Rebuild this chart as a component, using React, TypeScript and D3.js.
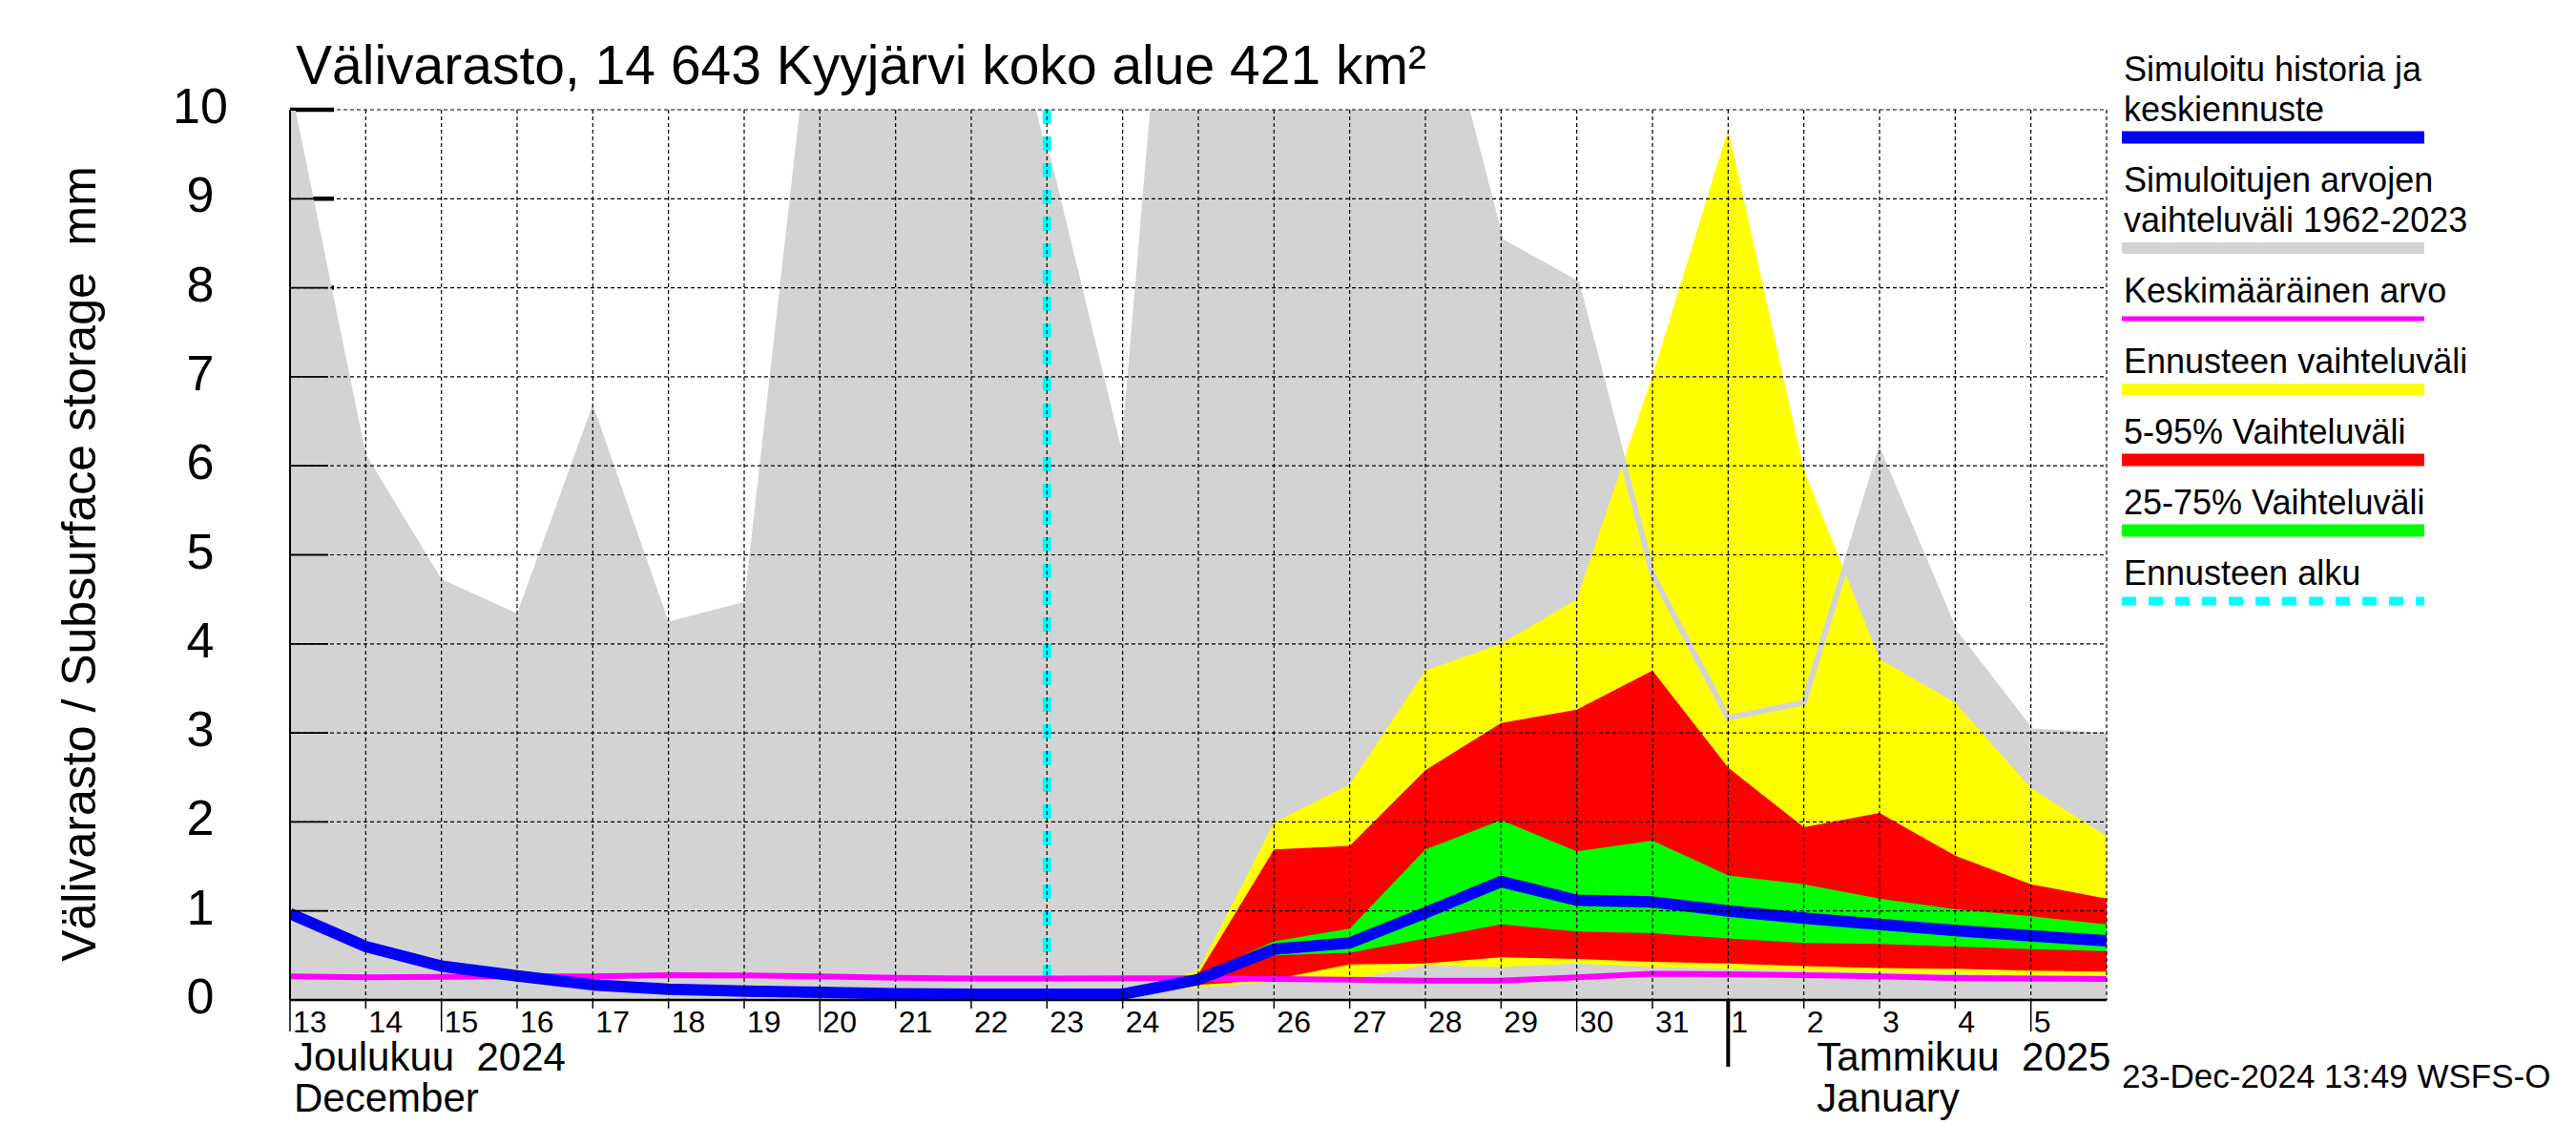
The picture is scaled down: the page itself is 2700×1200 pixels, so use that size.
import React, { useEffect, useRef } from 'react';
import * as d3 from 'd3';

// --- chart data -------------------------------------------------------------
const days = [
  '2024-12-13', '2024-12-14', '2024-12-15', '2024-12-16', '2024-12-17',
  '2024-12-18', '2024-12-19', '2024-12-20', '2024-12-21', '2024-12-22',
  '2024-12-23', '2024-12-24', '2024-12-25', '2024-12-26', '2024-12-27',
  '2024-12-28', '2024-12-29', '2024-12-30', '2024-12-31', '2025-01-01',
  '2025-01-02', '2025-01-03', '2025-01-04', '2025-01-05', '2025-01-06',
];
const dayLabels = [
  '13', '14', '15', '16', '17', '18', '19', '20', '21', '22', '23', '24',
  '25', '26', '27', '28', '29', '30', '31', '1', '2', '3', '4', '5',
];

// simulated range 1962-2023 (grey band)
const histMax = [
  10.3, 6.13, 4.73, 4.34, 6.69, 4.25, 4.47, 12.0, 13.0, 13.0, 9.5, 6.0,
  16.0, 14.0, 13.0, 11.8, 8.52, 8.05, 4.78, 3.17, 3.34, 6.13, 4.12, 3.02, 2.97,
];
const histMin = [
  0, 0, 0, 0, 0, 0, 0, 0, 0, 0, 0, 0, 0, 0, 0, 0, 0, 0, 0, 0, 0, 0, 0, 0, 0,
];
// mean value (magenta)
const meanValues = [
  0.265, 0.255, 0.26, 0.265, 0.265, 0.28, 0.275, 0.265, 0.25, 0.24, 0.24, 0.245,
  0.243, 0.236, 0.229, 0.218, 0.218, 0.254, 0.296, 0.289, 0.278, 0.264, 0.246, 0.24, 0.236,
];
// simulated history + median forecast (blue)
const median = [
  0.97, 0.6, 0.38, 0.27, 0.17, 0.12, 0.1, 0.085, 0.07, 0.065, 0.065, 0.065,
  0.23, 0.57, 0.64, 0.98, 1.33, 1.12, 1.1, 1.0, 0.92, 0.85, 0.78, 0.72, 0.665,
];

// forecast bands, from 2024-12-23 onwards
const forecastStart = 10;
const yellowHi = [0.065, 0.07, 0.33, 1.99, 2.42, 3.7, 4.0, 4.5, 7.01, 9.78, 5.96, 3.83, 3.34, 2.38, 1.84];
const redHi = [0.065, 0.07, 0.29, 1.69, 1.73, 2.58, 3.11, 3.26, 3.7, 2.61, 1.94, 2.1, 1.62, 1.3, 1.14];
const greenHi = [0.065, 0.07, 0.27, 0.66, 0.8, 1.69, 2.02, 1.67, 1.79, 1.4, 1.3, 1.14, 1.02, 0.94, 0.85];
const greenLo = [0.065, 0.07, 0.2, 0.5, 0.53, 0.69, 0.85, 0.77, 0.75, 0.69, 0.64, 0.63, 0.6, 0.57, 0.55];
const redLo = [0.065, 0.07, 0.17, 0.23, 0.4, 0.41, 0.48, 0.46, 0.43, 0.41, 0.38, 0.36, 0.35, 0.33, 0.32];
const yellowLo = [0.065, 0.07, 0.14, 0.21, 0.23, 0.39, 0.37, 0.41, 0.37, 0.35, 0.33, 0.31, 0.29, 0.28, 0.27];

const yTicks = [0, 1, 2, 3, 4, 5, 6, 7, 8, 9, 10];

const legendLabels = [
  ['Simuloitu historia ja', 'keskiennuste'],
  ['Simuloitujen arvojen', 'vaihteluväli 1962-2023'],
  ['Keskimääräinen arvo'],
  ['Ennusteen vaihteluväli'],
  ['5-95% Vaihteluväli'],
  ['25-75% Vaihteluväli'],
  ['Ennusteen alku'],
];
const legendColors = ['#0000ff', '#d3d3d3', '#ff00ff', '#ffff00', '#ff0000', '#00ff00', '#00ffff'];
const legendWidths = [13, 12, 5, 12, 13, 13, 9];

const title = 'Välivarasto, 14 643 Kyyjärvi koko alue 421 km²';
const yTitle = 'Välivarasto / Subsurface storage  mm';
const stamp = '23-Dec-2024 13:49 WSFS-O';

const W = 2700;
const H = 1200;
const FONT = "'Liberation Sans', Arial, Helvetica, sans-serif";

export default function App() {
  const ref = useRef<SVGSVGElement>(null);

  useEffect(() => {
    const svg = d3.select(ref.current);
    svg.selectAll('*').remove();

    const left = 304;
    const right = 2208;
    const top = 115;
    const bottom = 1048;

    const dates = days.map((d) => new Date(d + 'T00:00:00Z'));
    const x = d3.scaleUtc().domain([dates[0], dates[dates.length - 1]]).range([left, right]);
    const y = d3.scaleLinear().domain([0, 10]).range([bottom, top]);

    svg.append('rect').attr('width', W).attr('height', H).attr('fill', '#fff');

    svg
      .append('defs')
      .append('clipPath')
      .attr('id', 'plot-clip')
      .append('rect')
      .attr('x', left)
      .attr('y', top)
      .attr('width', right - left)
      .attr('height', bottom - top);

    // thick y ticks, partly hidden by the grey band
    svg
      .append('g')
      .selectAll('line')
      .data(yTicks.slice(1))
      .join('line')
      .attr('x1', left)
      .attr('x2', left + 46)
      .attr('y1', (d) => y(d))
      .attr('y2', (d) => y(d))
      .attr('stroke', '#000')
      .attr('stroke-width', 4.5);

    const plot = svg.append('g').attr('clip-path', 'url(#plot-clip)');

    // grey historic range
    const histArea = d3
      .area<number>()
      .x((_, i) => x(dates[i]))
      .y0((_, i) => y(histMin[i]))
      .y1((d) => y(d));
    plot.append('path').datum(histMax).attr('fill', '#d3d3d3').attr('d', histArea);

    // forecast bands
    const fDates = dates.slice(forecastStart);
    const band = (hi: number[], lo: number[], color: string) => {
      const a = d3
        .area<number>()
        .x((_, i) => x(fDates[i]))
        .y0((_, i) => y(lo[i]))
        .y1((d) => y(d));
      plot.append('path').datum(hi).attr('fill', color).attr('d', a);
    };
    band(yellowHi, yellowLo, '#ffff00');
    band(redHi, redLo, '#ff0000');
    band(greenHi, greenLo, '#00ff00');

    // grey upper edge drawn over the forecast
    const line = (xs: Date[]) =>
      d3
        .line<number>()
        .x((_, i) => x(xs[i]))
        .y((d) => y(d));
    plot
      .append('path')
      .datum(histMax.slice(forecastStart))
      .attr('fill', 'none')
      .attr('stroke', '#d3d3d3')
      .attr('stroke-width', 6)
      .attr('d', line(fDates));

    // grid
    const grid = svg.append('g').attr('stroke', '#000').attr('stroke-width', 1.2).attr('stroke-dasharray', '4,3');
    grid
      .selectAll('.h')
      .data(yTicks.slice(1))
      .join('line')
      .attr('x1', left)
      .attr('x2', right)
      .attr('y1', (d) => y(d))
      .attr('y2', (d) => y(d));
    grid
      .selectAll('.v')
      .data(dates.slice(1))
      .join('line')
      .attr('x1', (d) => x(d))
      .attr('x2', (d) => x(d))
      .attr('y1', top)
      .attr('y2', bottom);

    // thin y ticks on top
    svg
      .append('g')
      .selectAll('line')
      .data(yTicks.slice(1))
      .join('line')
      .attr('x1', left)
      .attr('x2', left + 40)
      .attr('y1', (d) => y(d))
      .attr('y2', (d) => y(d))
      .attr('stroke', '#000')
      .attr('stroke-width', 1.8);

    // forecast start
    plot
      .append('line')
      .attr('x1', x(dates[forecastStart]))
      .attr('x2', x(dates[forecastStart]))
      .attr('y1', top)
      .attr('y2', bottom)
      .attr('stroke', '#00ffff')
      .attr('stroke-width', 9)
      .attr('stroke-dasharray', '15,13');

    // mean
    plot
      .append('path')
      .datum(meanValues)
      .attr('fill', 'none')
      .attr('stroke', '#ff00ff')
      .attr('stroke-width', 6)
      .attr('d', line(dates));

    // median / history
    plot
      .append('path')
      .datum(median)
      .attr('fill', 'none')
      .attr('stroke', '#0000ff')
      .attr('stroke-width', 12)
      .attr('stroke-linejoin', 'round')
      .attr('d', line(dates));

    // axes
    svg
      .append('line')
      .attr('x1', left)
      .attr('x2', left)
      .attr('y1', top)
      .attr('y2', bottom)
      .attr('stroke', '#000')
      .attr('stroke-width', 2);
    svg
      .append('line')
      .attr('x1', left)
      .attr('x2', right)
      .attr('y1', bottom)
      .attr('y2', bottom)
      .attr('stroke', '#000')
      .attr('stroke-width', 2.5);

    // x ticks
    const tickDates = dates.slice(0, dayLabels.length);
    svg
      .append('g')
      .selectAll('line')
      .data(tickDates)
      .join('line')
      .attr('x1', (d) => x(d))
      .attr('x2', (d) => x(d))
      .attr('y1', bottom)
      .attr('y2', (d, i) => bottom + (i === 0 || d.getUTCDate() % 5 === 0 ? 33 : 9))
      .attr('stroke', '#000')
      .attr('stroke-width', 1.5);

    svg
      .append('g')
      .selectAll('text')
      .data(tickDates)
      .join('text')
      .attr('x', (d) => x(d) + 3)
      .attr('y', 1082)
      .attr('font-family', FONT)
      .attr('font-size', 32)
      .text((_, i) => dayLabels[i]);

    // month separator
    const jan1 = dates[dayLabels.indexOf('1')];
    svg
      .append('line')
      .attr('x1', x(jan1))
      .attr('x2', x(jan1))
      .attr('y1', bottom)
      .attr('y2', 1118)
      .attr('stroke', '#000')
      .attr('stroke-width', 4);

    const monthText = (tx: number, ty: number, s: string) =>
      svg
        .append('text')
        .attr('x', tx)
        .attr('y', ty)
        .attr('font-family', FONT)
        .attr('font-size', 42)
        .style('white-space', 'pre')
        .text(s);
    monthText(x(dates[0]) + 4, 1122, 'Joulukuu  2024');
    monthText(x(dates[0]) + 4, 1165, 'December');
    monthText(x(jan1) + 93, 1122, 'Tammikuu  2025');
    monthText(x(jan1) + 93, 1165, 'January');

    // y tick labels
    svg
      .append('g')
      .selectAll('text')
      .data(yTicks)
      .join('text')
      .attr('x', 210)
      .attr('y', (d) => y(d) + 14)
      .attr('text-anchor', 'middle')
      .attr('font-family', FONT)
      .attr('font-size', 52)
      .text((d) => String(d));

    // y title
    svg
      .append('text')
      .attr('transform', `translate(100,591) rotate(-90)`)
      .attr('text-anchor', 'middle')
      .attr('font-family', FONT)
      .attr('font-size', 50)
      .style('white-space', 'pre')
      .text(yTitle);

    // title
    svg
      .append('text')
      .attr('x', 310)
      .attr('y', 88)
      .attr('font-family', FONT)
      .attr('font-size', 57)
      .text(title);

    // timestamp
    svg
      .append('text')
      .attr('x', 2224)
      .attr('y', 1140)
      .attr('font-family', FONT)
      .attr('font-size', 35)
      .text(stamp);

    // legend
    const lg = svg.append('g');
    let base = 85;
    legendLabels.forEach((lines, k) => {
      lines.forEach((t, j) => {
        lg.append('text')
          .attr('x', 2226)
          .attr('y', base + j * 42)
          .attr('font-family', FONT)
          .attr('font-size', 36)
          .text(t);
      });
      const barY = base + (lines.length - 1) * 42 + 17;
      lg.append('line')
        .attr('x1', 2224)
        .attr('x2', 2541)
        .attr('y1', barY)
        .attr('y2', barY)
        .attr('stroke', legendColors[k])
        .attr('stroke-width', legendWidths[k])
        .attr('stroke-dasharray', k === legendLabels.length - 1 ? '15,13' : null);
      base = barY + 57;
    });
  }, []);

  return (
    <svg
      ref={ref}
      width={W}
      height={H}
      style={{ position: 'absolute', left: 0, top: 0, display: 'block' }}
    />
  );
}
